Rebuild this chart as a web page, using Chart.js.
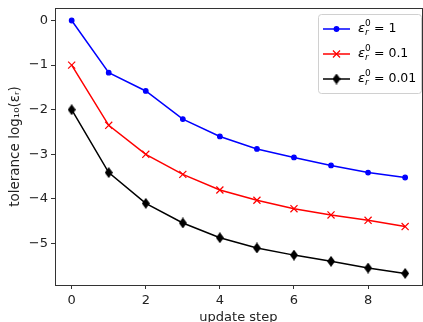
<!DOCTYPE html>
<html>
<head>
<meta charset="utf-8">
<script src="https://cdn.jsdelivr.net/npm/chart.js@4.4.1/dist/chart.umd.min.js"></script>
<style>
  html, body { margin: 0; padding: 0; background: #fff; overflow: hidden; }
  #wrap { width: 428px; height: 322px; }
</style>
</head>
<body>
<div id="wrap"><canvas id="tolChart" width="428" height="322"></canvas></div>
<script>
// data
const steps = [0, 1, 2, 3, 4, 5, 6, 7, 8, 9];
const tol1 = [0, -1.17, -1.58, -2.21, -2.60, -2.88, -3.07, -3.25, -3.41, -3.52];
const tol01 = [-1, -2.35, -3.0, -3.45, -3.80, -4.03, -4.22, -4.36, -4.48, -4.62];
const tol001 = [-2, -3.41, -4.10, -4.54, -4.87, -5.10, -5.26, -5.40, -5.55, -5.67];
const legendValues = ['1', '0.1', '0.01'];
const xTicks = [0, 2, 4, 6, 8];
const yTicks = [0, -1, -2, -3, -4, -5];

const FONT = 'DejaVu Sans';

// thin diamond marker like matplotlib 'd'
function thinDiamond(w, h) {
  const c = document.createElement('canvas');
  c.width = w; c.height = h;
  const g = c.getContext('2d');
  g.fillStyle = '#000';
  g.beginPath();
  g.moveTo(w / 2, 0);
  g.lineTo(w, h / 2);
  g.lineTo(w / 2, h);
  g.lineTo(0, h / 2);
  g.closePath();
  g.fill();
  return c;
}
const diamond = thinDiamond(8, 11);

function pts(ys) {
  return steps.map((x, i) => ({x: x, y: ys[i]}));
}

const series = [
  {values: tol1, color: '#0000ff', style: 'circle', radius: 2.3},
  {values: tol01, color: '#ff0000', style: 'crossRot', radius: 5},
  {values: tol001, color: '#000000', style: diamond, radius: 5}
];

const data = {
  datasets: series.map((s, i) => ({
    label: legendValues[i],
    data: pts(s.values),
    borderColor: s.color,
    backgroundColor: s.color,
    borderWidth: 1.5,
    pointStyle: s.style,
    pointRadius: s.radius,
    pointBorderWidth: 1.2,
    pointHoverRadius: s.radius,
    tension: 0
  }))
};

// frame on all sides + legend with stacked super/subscript
const framePlugin = {
  id: 'frame',
  afterDraw(chart) {
    const ctx = chart.ctx;
    const a = chart.chartArea;
    ctx.save();
    ctx.strokeStyle = '#333';
    ctx.lineWidth = 1;
    ctx.strokeRect(Math.round(a.left) + 0.5, Math.round(a.top) + 0.5,
      Math.round(a.right - a.left), Math.round(a.bottom - a.top));

    // legend box
    const bx = 318.5, by = 14.5, bw = 103, bh = 79;
    ctx.fillStyle = 'rgba(255,255,255,0.8)';
    ctx.strokeStyle = '#d0d0d0';
    ctx.beginPath();
    ctx.roundRect(bx, by, bw, bh, 3);
    ctx.fill();
    ctx.stroke();

    const rows = [29, 54, 79];
    series.forEach((s, i) => {
      const y = rows[i];
      ctx.strokeStyle = s.color;
      ctx.fillStyle = s.color;
      ctx.lineWidth = 1.5;
      ctx.beginPath();
      ctx.moveTo(323, y);
      ctx.lineTo(350, y);
      ctx.stroke();
      ctx.lineWidth = 1.2;
      Chart.helpers.drawPoint(ctx, {pointStyle: s.style, radius: s.radius, borderWidth: 1.2, rotation: 0}, 336.5, y);

      ctx.fillStyle = '#000';
      ctx.textBaseline = 'middle';
      ctx.textAlign = 'left';
      ctx.font = 'italic 13px ' + FONT;
      ctx.fillText('ε', 358, y);
      ctx.font = '9px ' + FONT;
      ctx.fillText('0', 365, y - 5);
      ctx.font = 'italic 9px ' + FONT;
      ctx.fillText('r', 365, y + 4);
      ctx.font = '12.5px ' + FONT;
      ctx.fillText('= ' + legendValues[i], 374, y);
    });
    ctx.restore();
  }
};

const minus = v => (v < 0 ? '\u2212' + Math.abs(v) : String(v));

const config = {
  type: 'line',
  data,
  options: {
    responsive: false,
    animation: false,
    layout: {padding: {top: 8, right: 1.5, left: 0, bottom: 0}},
    plugins: {legend: {display: false}, tooltip: {enabled: false}},
    scales: {
      x: {
        type: 'linear',
        min: -0.45,
        max: 9.45,
        afterBuildTicks: scale => { scale.ticks = xTicks.map(v => ({value: v})); },
        afterFit: scale => { scale.height = 37; scale.paddingLeft = 0; scale.paddingRight = 0; },
        grid: {drawOnChartArea: false, drawTicks: true, tickLength: 4, tickColor: '#333'},
        border: {display: true, color: '#333'},
        ticks: {color: '#222', font: {family: FONT, size: 13}, padding: 4, maxRotation: 0, callback: minus},
        title: {display: true, text: 'update step', color: '#222', font: {family: FONT, size: 13}, padding: {top: 4, bottom: -3}}
      },
      y: {
        type: 'linear',
        min: -5.93,
        max: 0.28,
        afterBuildTicks: scale => { scale.ticks = yTicks.map(v => ({value: v})); },
        afterFit: scale => { scale.width = 55; scale.paddingTop = 0; scale.paddingBottom = 0; },
        grid: {drawOnChartArea: false, drawTicks: true, tickLength: 4, tickColor: '#333'},
        border: {display: true, color: '#333'},
        ticks: {color: '#222', font: {family: FONT, size: 13}, padding: 3, callback: minus},
        title: {display: true, text: 'tolerance log\u2081\u2080(\u03b5\u1d63)', color: '#222', font: {family: FONT, size: 13.5}, padding: {top: 7, bottom: 0}}
      }
    }
  },
  plugins: [framePlugin]
};

const myChart = new Chart(document.getElementById('tolChart'), config);
</script>
</body>
</html>
